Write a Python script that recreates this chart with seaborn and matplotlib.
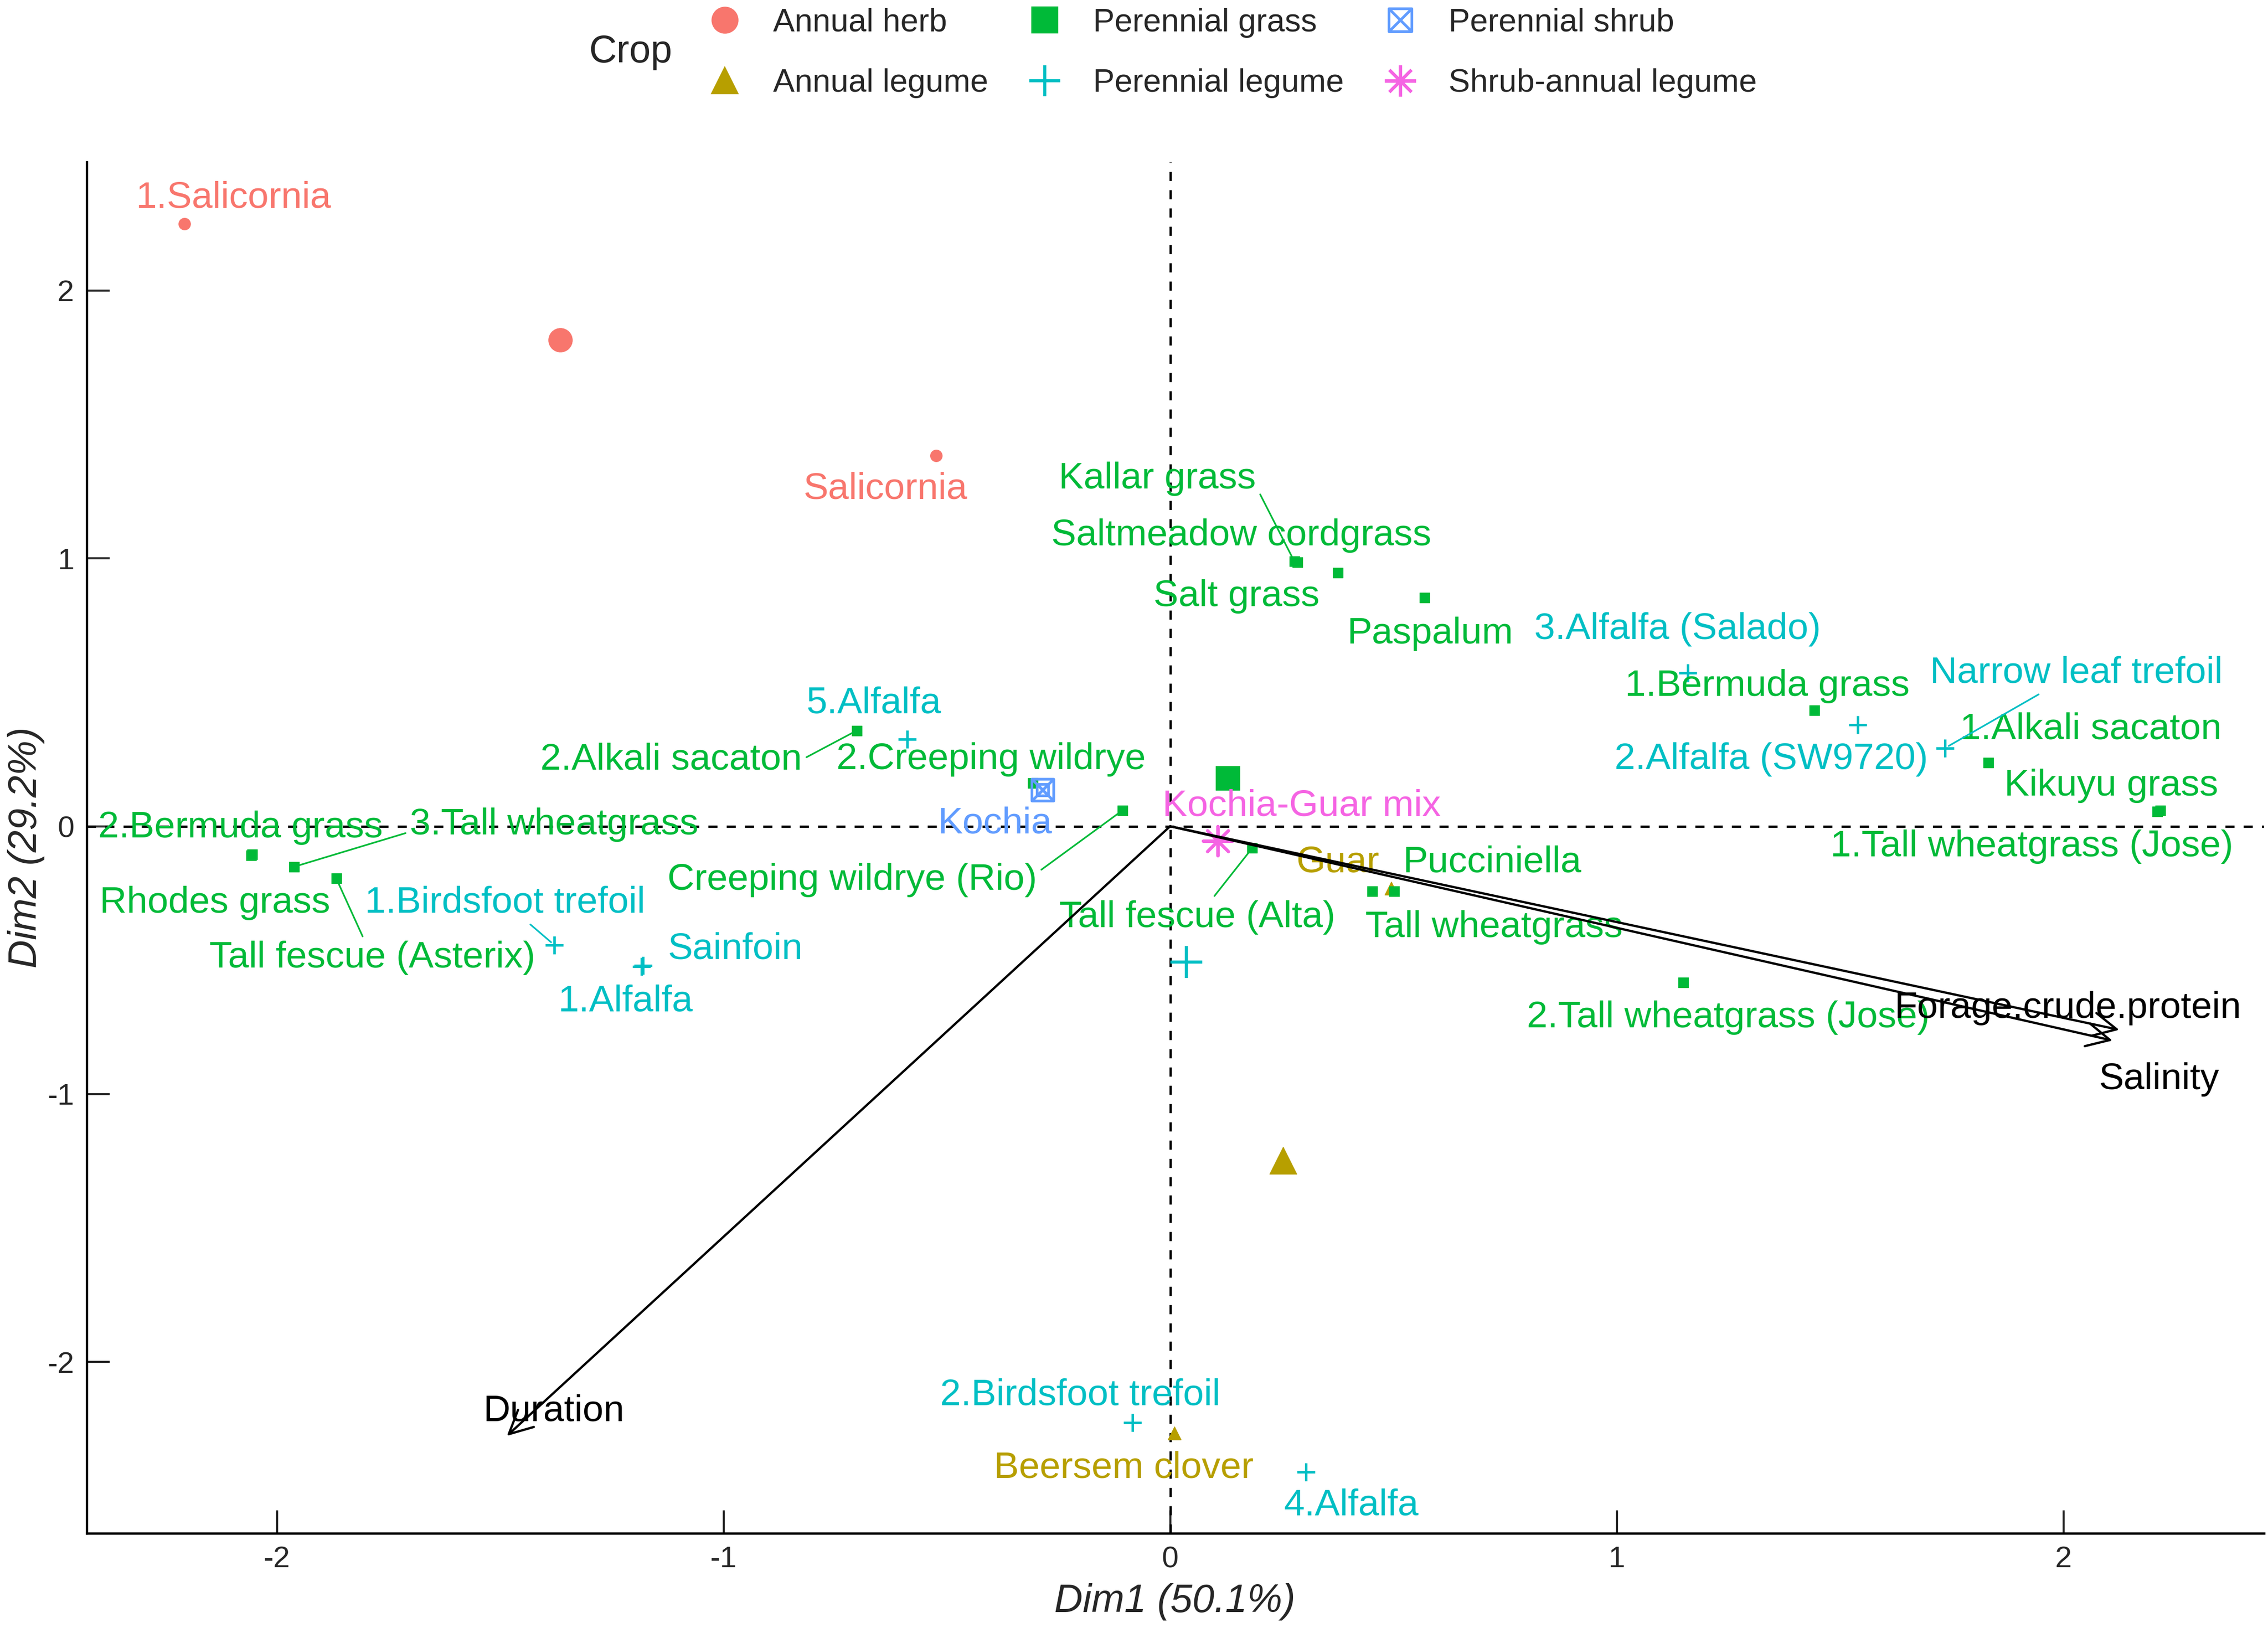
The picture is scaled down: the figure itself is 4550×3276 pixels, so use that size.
import numpy as np
import pandas as pd
import matplotlib
matplotlib.use("Agg")
import matplotlib.pyplot as plt
from matplotlib.lines import Line2D
from matplotlib.path import Path
import seaborn as sns

###################################
# Data
###################################
crop_groups = ["Annual herb", "Annual legume", "Perennial grass",
               "Perennial legume", "Perennial shrub", "Shrub-annual legume"]
group_colors = ["#F8766D", "#B79F00", "#00BA38", "#00BFC4", "#619CFF", "#F564E3"]

names = ["1.Salicornia", "Salicornia",
         "Beersem clover", "Guar",
         "Kallar grass", "Saltmeadow cordgrass", "Salt grass", "Paspalum",
         "1.Bermuda grass", "1.Alkali sacaton", "Kikuyu grass",
         "1.Tall wheatgrass (Jose)", "2.Tall wheatgrass (Jose)", "Tall wheatgrass",
         "Pucciniella", "Tall fescue (Alta)", "Creeping wildrye (Rio)",
         "2.Creeping wildrye", "2.Alkali sacaton", "3.Tall wheatgrass",
         "Tall fescue (Asterix)", "Rhodes grass", "2.Bermuda grass",
         "5.Alfalfa", "1.Birdsfoot trefoil", "1.Alfalfa", "Sainfoin",
         "3.Alfalfa (Salado)", "2.Alfalfa (SW9720)", "Narrow leaf trefoil",
         "2.Birdsfoot trefoil", "4.Alfalfa",
         "Kochia",
         "Kochia-Guar mix"]
crop = (["Annual herb"] * 2 + ["Annual legume"] * 2 + ["Perennial grass"] * 19
        + ["Perennial legume"] * 9 + ["Perennial shrub"] + ["Shrub-annual legume"])
dim1 = [-2.207, -0.524,
        0.010, 0.495,
        0.278, 0.285, 0.375, 0.570,
        1.443, 1.832, 2.217,
        2.210, 1.149, 0.453,
        0.502, 0.184, -0.107,
        -0.307, -0.702, -1.961,
        -1.867, -2.058, -2.055,
        -0.589, -1.379, -1.184, -1.180,
        1.159, 1.540, 1.735,
        -0.084, 0.304,
        -0.285,
        0.107]
dim2 = [2.249, 1.384,
        -2.265, -0.232,
        0.989, 0.985, 0.946, 0.854,
        0.432, 0.238, 0.059,
        0.055, -0.584, -0.243,
        -0.243, -0.081, 0.059,
        0.162, 0.357, -0.151,
        -0.195, -0.108, -0.105,
        0.324, -0.443, -0.524, -0.520,
        0.573, 0.378, 0.292,
        -2.227, -2.411,
        0.135,
        -0.054]

var_names = ["Salinity", "Forage.crude.protein", "Duration"]
var_dim1 = [2.110, 2.125, -1.485]
var_dim2 = [-0.800, -0.760, -2.276]

df = pd.DataFrame({"name": names, "Crop": crop, "Dim1": dim1, "Dim2": dim2})
centroids = df.groupby("Crop")[["Dim1", "Dim2"]].mean()

###################################
# Label layout (repelled positions)
###################################
label_pos = {
    "1.Salicornia": (-2.097, 2.346), "Salicornia": (-0.638, 1.259),
    "Kallar grass": (-0.029, 1.297), "Saltmeadow cordgrass": (0.159, 1.086),
    "Salt grass": (0.149, 0.859), "Paspalum": (0.583, 0.719),
    "3.Alfalfa (Salado)": (1.136, 0.735), "1.Bermuda grass": (1.337, 0.524),
    "Narrow leaf trefoil": (2.029, 0.573), "1.Alkali sacaton": (2.061, 0.362),
    "2.Alfalfa (SW9720)": (1.346, 0.249), "Kikuyu grass": (2.107, 0.151),
    "1.Tall wheatgrass (Jose)": (1.929, -0.076), "Pucciniella": (0.722, -0.135),
    "Guar": (0.375, -0.135), "Tall wheatgrass": (0.725, -0.378),
    "Tall fescue (Alta)": (0.061, -0.341), "Kochia-Guar mix": (0.294, 0.076),
    "2.Tall wheatgrass (Jose)": (1.249, -0.714), "5.Alfalfa": (-0.663, 0.459),
    "2.Alkali sacaton": (-1.117, 0.249), "2.Creeping wildrye": (-0.401, 0.249),
    "Kochia": (-0.392, 0.011), "Creeping wildrye (Rio)": (-0.712, -0.200),
    "2.Bermuda grass": (-2.081, -0.005), "3.Tall wheatgrass": (-1.379, 0.005),
    "Rhodes grass": (-2.139, -0.286), "1.Birdsfoot trefoil": (-1.489, -0.286),
    "Tall fescue (Asterix)": (-1.786, -0.492), "Sainfoin": (-0.974, -0.459),
    "1.Alfalfa": (-1.220, -0.654), "2.Birdsfoot trefoil": (-0.201, -2.124),
    "Beersem clover": (-0.104, -2.395), "4.Alfalfa": (0.405, -2.535),
}
# labels joined to their point by a segment, with the side the segment leaves from
with_segment = {"Kallar grass": (1.0, 0.3), "3.Tall wheatgrass": (0.0, 0.3),
                "Tall fescue (Asterix)": (0.5, 0.5), "1.Birdsfoot trefoil": (0.5, 0.5),
                "2.Alkali sacaton": (1.0, 0.5), "Creeping wildrye (Rio)": (1.0, 0.7),
                "Tall fescue (Alta)": (0.5, 0.5), "Narrow leaf trefoil": (0.5, 0.5)}
var_label_pos = {"Salinity": (2.214, -0.946), "Forage.crude.protein": (2.010, -0.680),
                 "Duration": (-1.379, -2.184)}

###################################
# Plot
###################################
sns.set_theme(style="ticks")
plt.rcParams["font.family"] = ["Liberation Sans", "DejaVu Sans"]
plt.rcParams["axes.unicode_minus"] = False

fig = plt.figure(figsize=(4550 / 300, 3276 / 300), dpi=300)
ax = fig.add_axes([0.0382, 0.061, 0.96, 0.8398])

square_cross = Path([(-1, -1), (1, -1), (1, 1), (-1, 1), (-1, -1),
                     (-1, -1), (1, 1), (-1, 1), (1, -1)],
                    [Path.MOVETO, Path.LINETO, Path.LINETO, Path.LINETO, Path.CLOSEPOLY,
                     Path.MOVETO, Path.LINETO, Path.MOVETO, Path.LINETO])

markers = {"Annual herb": "o", "Annual legume": "^", "Perennial grass": "s",
           "Perennial legume": "+", "Perennial shrub": square_cross,
           "Shrub-annual legume": (8, 2, 0)}
small_size = {"Annual herb": 32, "Annual legume": 40, "Perennial grass": 24,
              "Perennial legume": 75, "Perennial shrub": 30, "Shrub-annual legume": 80}
big_size = {"Annual herb": 130, "Annual legume": 170, "Perennial grass": 130,
            "Perennial legume": 240, "Perennial shrub": 110, "Shrub-annual legume": 200}

ax.axhline(0, color="black", ls=(0, (4, 4)), lw=1.1, zorder=1)
ax.axvline(0, color="black", ls=(0, (4, 4)), lw=1.1, zorder=1)

for grp, col in zip(crop_groups, group_colors):
    sub = df[df["Crop"] == grp]
    cen = centroids.loc[[grp]]
    if grp == "Perennial shrub":
        for d, s in [(sub, small_size[grp]), (cen, big_size[grp])]:
            ax.scatter(d["Dim1"], d["Dim2"], marker=square_cross, s=s,
                       facecolors="none", edgecolors=col, linewidths=1.3, zorder=3)
    elif grp in ("Perennial legume", "Shrub-annual legume"):
        sns.scatterplot(data=sub, x="Dim1", y="Dim2", color=col, marker=markers[grp],
                        s=small_size[grp], linewidth=1.2, ax=ax, legend=False, zorder=3)
        sns.scatterplot(data=cen, x="Dim1", y="Dim2", color=col, marker=markers[grp],
                        s=big_size[grp], linewidth=1.5, ax=ax, legend=False, zorder=3)
    else:
        sns.scatterplot(data=sub, x="Dim1", y="Dim2", color=col, marker=markers[grp],
                        s=small_size[grp], edgecolor=col, linewidth=0.3, ax=ax,
                        legend=False, zorder=3)
        sns.scatterplot(data=cen, x="Dim1", y="Dim2", color=col, marker=markers[grp],
                        s=big_size[grp], edgecolor=col, linewidth=0.3, ax=ax,
                        legend=False, zorder=3)

# point labels
color_of = dict(zip(crop_groups, group_colors))
for _, row in df.iterrows():
    col = color_of[row["Crop"]]
    lx, ly = label_pos[row["name"]]
    if row["name"] in with_segment:
        ax.annotate(row["name"], xy=(row["Dim1"], row["Dim2"]), xytext=(lx, ly),
                    color=col, fontsize=18, ha="center", va="center", zorder=4,
                    arrowprops=dict(arrowstyle="-", color=col, lw=0.8,
                                    shrinkA=0, shrinkB=2,
                                    relpos=with_segment[row["name"]]))
    else:
        ax.text(lx, ly, row["name"], color=col, fontsize=18,
                ha="center", va="center", zorder=4)

# variable arrows
for vn, vx, vy in zip(var_names, var_dim1, var_dim2):
    ax.annotate("", xy=(vx, vy), xytext=(0, 0), zorder=5,
                arrowprops=dict(arrowstyle="->", color="black", lw=1.1,
                                mutation_scale=28, shrinkA=0, shrinkB=0))
    tx, ty = var_label_pos[vn]
    ax.text(tx, ty, vn, color="black", fontsize=18, ha="center", va="center", zorder=5)

ax.set_xlim(-2.426, 2.449)
ax.set_ylim(-2.64, 2.48)
ax.set_xticks([-2, -1, 0, 1, 2])
ax.set_yticks([-2, -1, 0, 1, 2])
ax.tick_params(direction="in", length=11, width=1.0, labelsize=14.5,
               labelcolor="#262626", pad=6)
for side in ["top", "right"]:
    ax.spines[side].set_visible(False)
for side in ["left", "bottom"]:
    ax.spines[side].set_linewidth(1.1)
    ax.spines[side].set_color("black")
ax.set_xlabel("")
ax.set_ylabel("")
fig.text(0.518, 0.019, "Dim1 (50.1%)", fontsize=19, style="italic",
         ha="center", va="center")
fig.text(0.0115, 0.481, "Dim2 (29.2%)", fontsize=19, style="italic",
         ha="center", va="center", rotation=90)

# legend
handles = []
for grp, col in zip(crop_groups, group_colors):
    if grp == "Perennial shrub":
        h = Line2D([], [], marker=square_cross, linestyle="none", markersize=11,
                   markerfacecolor="none", markeredgecolor=col, markeredgewidth=1.3)
    elif grp in ("Perennial legume", "Shrub-annual legume"):
        h = Line2D([], [], marker=markers[grp], linestyle="none", markersize=15,
                   color=col, markeredgewidth=1.5)
    else:
        h = Line2D([], [], marker=markers[grp], linestyle="none", markersize=12,
                   color=col)
    handles.append(h)
fig.legend(handles, crop_groups, loc="center", bbox_to_anchor=(0.540, 0.9675),
           ncol=3, frameon=False, fontsize=15.5, handletextpad=0.5,
           columnspacing=0.75, labelspacing=0.95)
fig.text(0.278, 0.968, "Crop", fontsize=18.5, ha="center", va="center")

fig.savefig("out.png", dpi=300)
